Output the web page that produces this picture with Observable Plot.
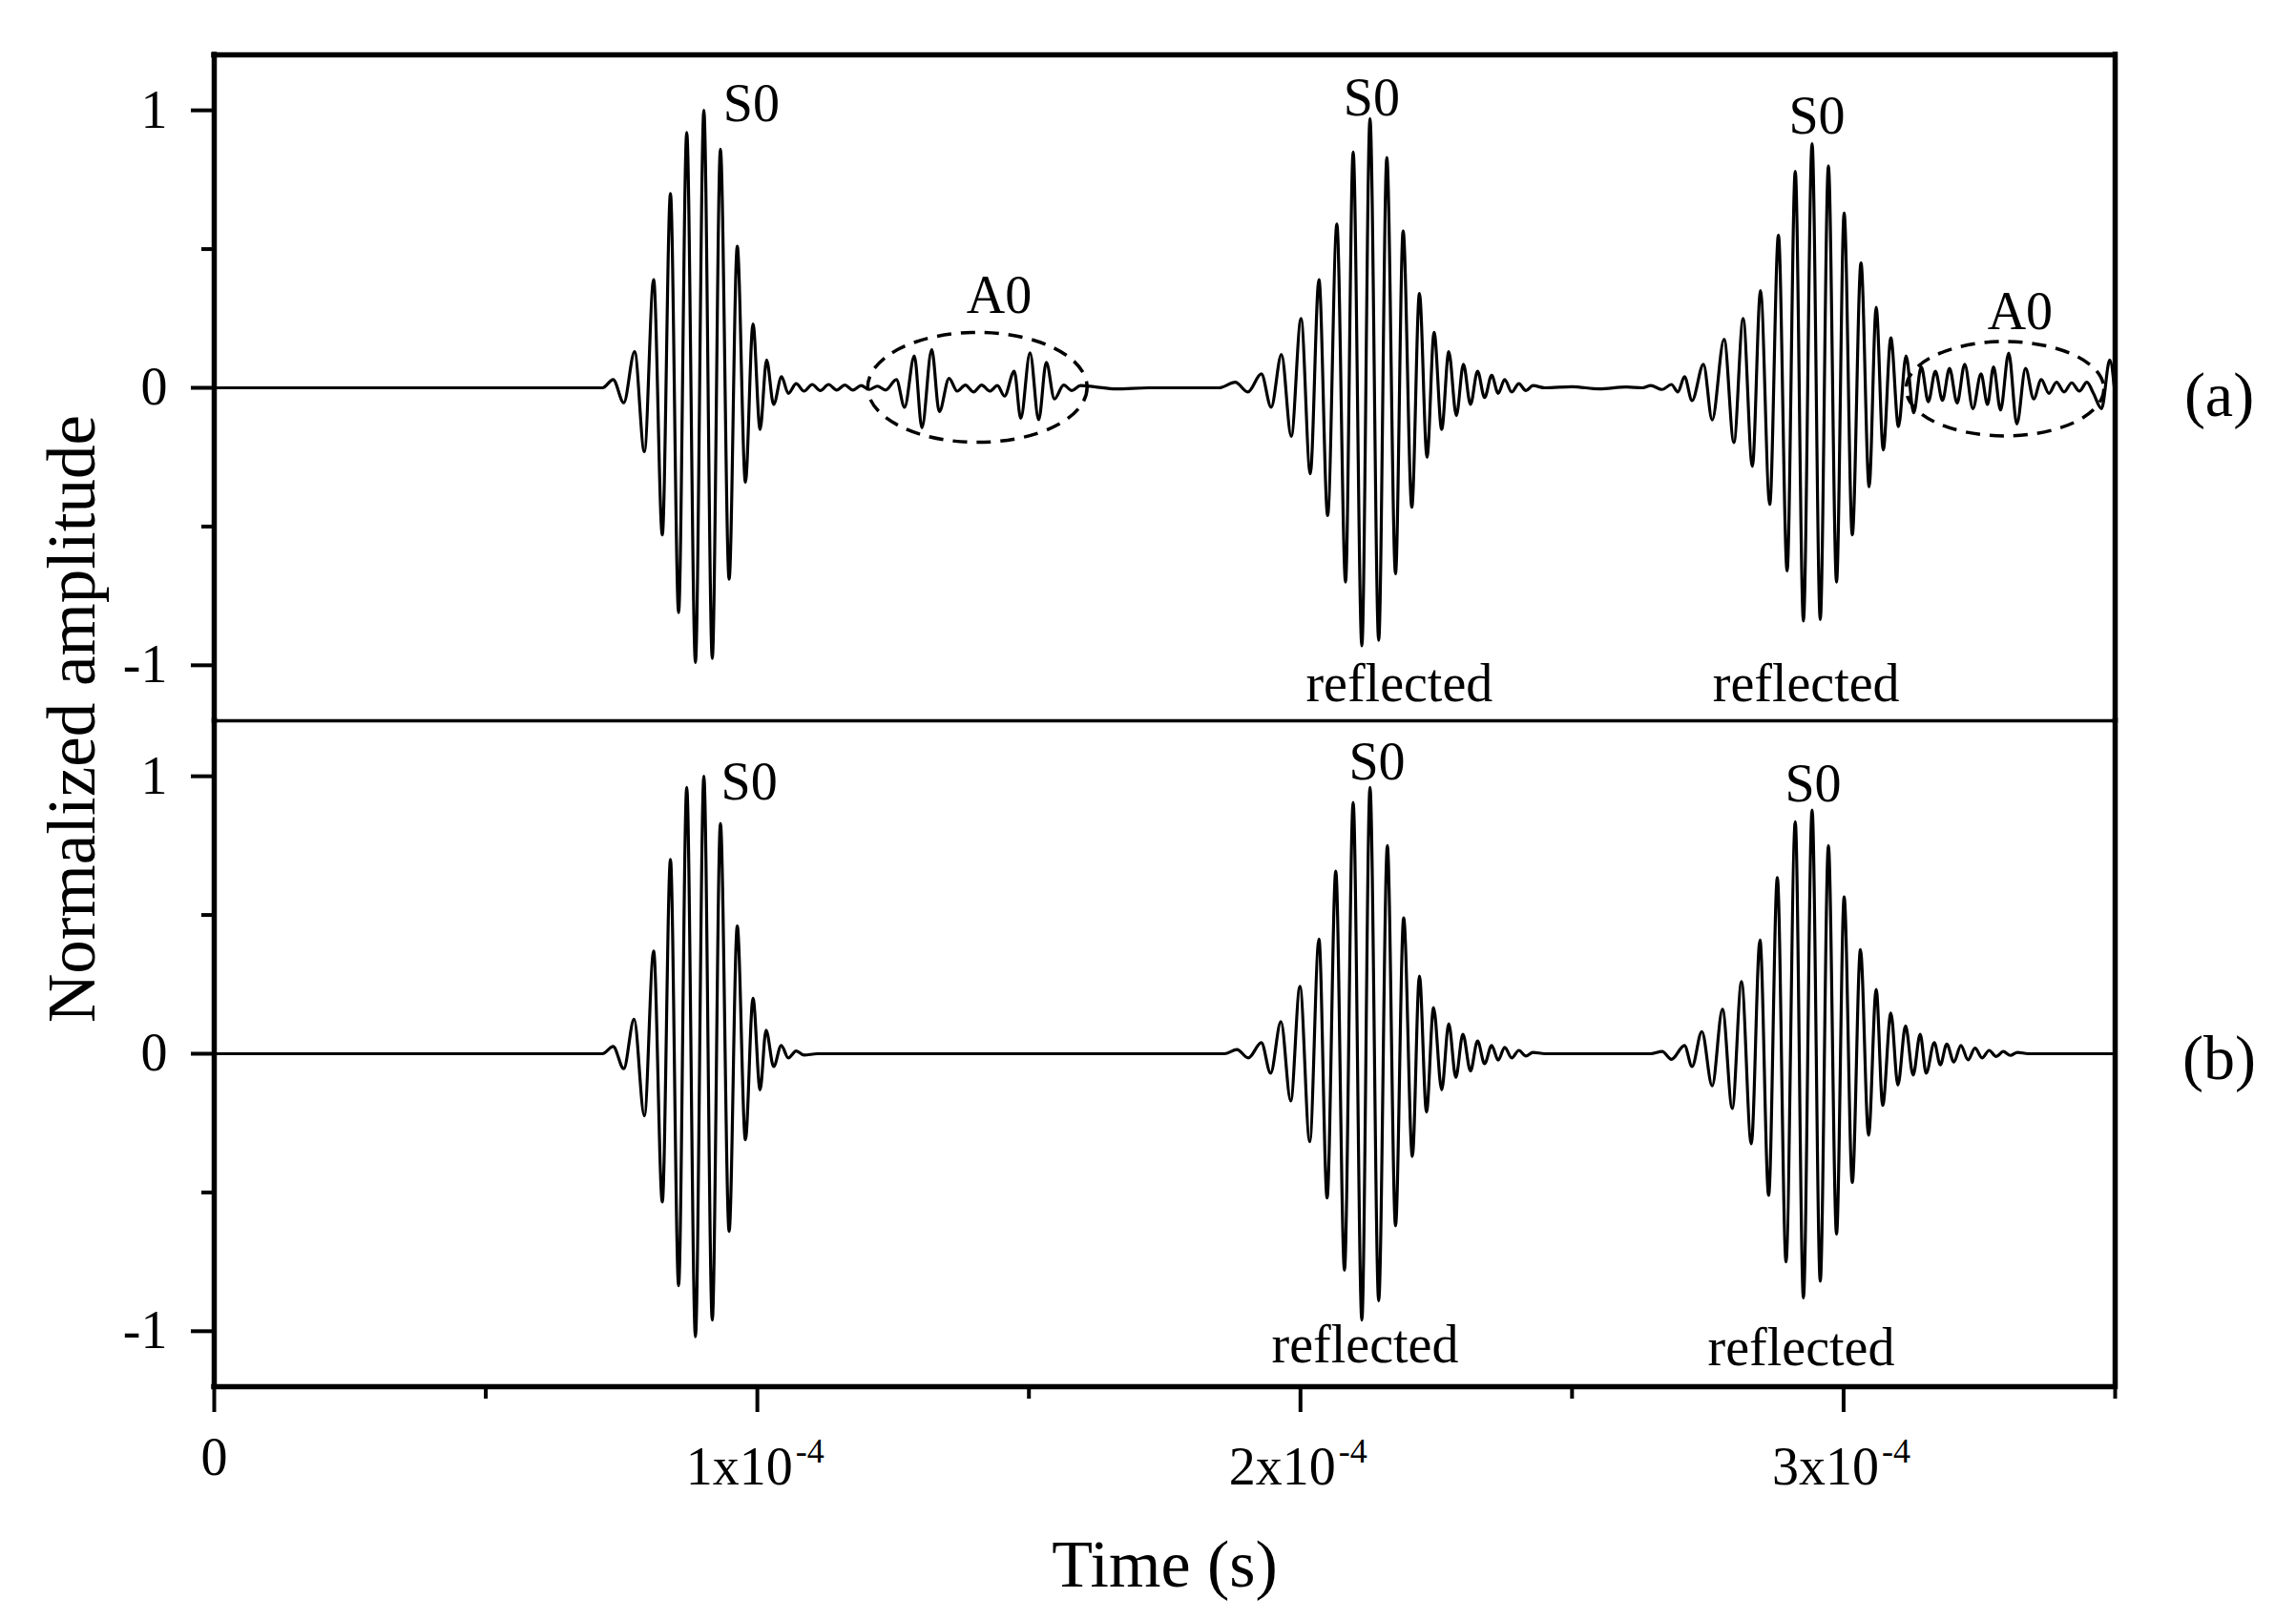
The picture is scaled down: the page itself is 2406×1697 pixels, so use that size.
<!DOCTYPE html>
<html><head><meta charset="utf-8">
<script src="https://cdn.jsdelivr.net/npm/d3@7"></script>
<script src="https://cdn.jsdelivr.net/npm/@observablehq/plot@0.6"></script>
<style>
html,body{margin:0;padding:0;background:#fff;}
#chart{position:relative;width:2406px;height:1697px;overflow:hidden;background:#fff;}
#chart svg{display:block;}
</style></head><body><div id="chart"></div>
<script>
// ---------- DATA (time in microseconds, normalized amplitude) ----------
// Panel (a): extrema
const leadA = [[0, 0], [71.5, 0]];
const burstA1 = [[73.45, 0.03], [75.4, -0.054], [77.4, 0.13], [79.2, -0.23], [80.9, 0.39], [82.5, -0.53], [84.0, 0.70], [85.5, -0.81], [87.0, 0.92], [88.6, -0.99], [90.15, 1.0], [91.7, -0.975], [93.2, 0.86], [94.8, -0.69], [96.3, 0.51], [97.8, -0.34], [99.2, 0.23], [100.5, -0.15], [101.7, 0.10], [103.0, -0.06], [104.45, 0.04], [105.7, -0.02], [107.15, 0.015], [108.6, -0.012]];
const rippleA1 = [[110.1, 0.012], [111.6, -0.01], [113.1, 0.012], [114.6, -0.008], [116.1, 0.01], [117.6, -0.008], [119.1, 0.008], [120.6, -0.006], [122.1, 0.006], [123.6, -0.008]];
const a0PacketA1 = [[125.6, 0.03], [127.1, -0.07], [128.9, 0.115], [130.3, -0.144], [132.1, 0.138], [133.5, -0.086], [135.3, 0.034], [136.8, -0.012], [138.3, 0.01], [139.8, -0.015], [141.3, 0.01], [142.8, -0.012], [144.2, 0.008], [145.5, -0.03], [147.3, 0.06], [148.5, -0.11], [150.2, 0.126], [151.8, -0.115], [153.2, 0.092], [154.7, -0.04], [156.4, 0.01], [157.9, -0.01], [159.5, 0.008]];
const gapA1 = [[162, 0.004], [166, -0.004], [172, 0], [185, 0]];
const burstA2 = [[188.0, 0.02], [190.3, -0.015], [192.8, 0.05], [194.6, -0.07], [196.5, 0.12], [198.3, -0.175], [200.1, 0.25], [201.8, -0.31], [203.4, 0.39], [205.0, -0.46], [206.7, 0.59], [208.3, -0.70], [209.7, 0.85], [211.3, -0.93], [212.8, 0.97], [214.4, -0.91], [215.9, 0.83], [217.5, -0.67], [218.9, 0.565], [220.5, -0.43], [221.9, 0.34], [223.3, -0.25], [224.6, 0.20], [226.0, -0.15], [227.3, 0.13], [228.7, -0.10], [230.0, 0.085], [231.3, -0.06], [232.6, 0.06], [233.9, -0.035], [235.2, 0.045], [236.4, -0.02], [237.6, 0.03], [238.9, -0.015], [240.2, 0.015], [241.5, -0.01], [242.8, 0.008]];
const gapA2 = [[245, 0], [250, 0.004], [255, -0.004], [260, 0.003], [263, 0]];
const burstA3 = [[264.5, 0.008], [266.6, -0.006], [268.3, 0.012], [269.5, -0.015], [270.7, 0.04], [272.1, -0.046], [274.2, 0.085], [275.8, -0.116], [278.0, 0.175], [279.8, -0.197], [281.5, 0.25], [283.2, -0.283], [284.7, 0.35], [286.4, -0.42], [288.0, 0.55], [289.6, -0.66], [291.1, 0.78], [292.6, -0.84], [294.2, 0.88], [295.7, -0.835], [297.2, 0.80], [298.7, -0.70], [300.1, 0.63], [301.6, -0.53], [303.2, 0.45], [304.7, -0.356], [306.0, 0.29], [307.3, -0.224], [308.7, 0.18], [310.1, -0.14], [311.5, 0.115]];
const a0TailA3 = [[312.9, -0.09], [314.3, 0.075], [315.6, -0.05], [316.9, 0.06], [318.2, -0.045], [319.5, 0.07], [320.9, -0.055], [322.3, 0.085], [323.8, -0.075], [325.3, 0.05], [326.5, -0.06], [327.6, 0.075], [328.9, -0.08], [330.4, 0.125], [331.9, -0.13], [333.5, 0.07], [335.0, -0.04], [336.4, 0.03], [337.8, -0.02], [339.2, 0.02], [340.6, -0.015], [342.0, 0.018], [343.4, -0.012], [344.8, 0.02], [346.0, -0.02], [347.5, -0.075], [349.0, 0.10], [350, -0.03]];

// Panel (b)
const leadB = [[0, 0], [71.5, 0]];
const burstB1 = [[73.45, 0.026], [75.4, -0.054], [77.3, 0.124], [79.2, -0.224], [80.9, 0.37], [82.5, -0.534], [84.0, 0.70], [85.5, -0.836], [87.0, 0.96], [88.6, -1.02], [90.15, 1.0], [91.7, -0.96], [93.2, 0.83], [94.8, -0.64], [96.3, 0.46], [97.8, -0.31], [99.2, 0.20], [100.5, -0.13], [101.6, 0.085], [103.0, -0.046], [104.4, 0.03], [105.7, -0.015], [107.15, 0.01], [108.6, -0.005]];
const gapB1 = [[111, 0], [186, 0]];
const burstB2 = [[188.3, 0.015], [190.4, -0.015], [192.8, 0.04], [194.5, -0.07], [196.4, 0.116], [198.2, -0.17], [199.9, 0.243], [201.7, -0.317], [203.4, 0.413], [204.9, -0.52], [206.5, 0.658], [208.1, -0.78], [209.7, 0.906], [211.3, -0.96], [212.8, 0.96], [214.4, -0.89], [216.0, 0.75], [217.5, -0.62], [219.0, 0.49], [220.6, -0.37], [221.9, 0.28], [223.2, -0.21], [224.5, 0.166], [226.0, -0.13], [227.3, 0.108], [228.6, -0.085], [229.9, 0.07], [231.3, -0.062], [232.6, 0.046], [233.9, -0.036], [235.2, 0.03], [236.4, -0.023], [237.6, 0.023], [238.9, -0.015], [240.2, 0.012], [241.5, -0.008], [242.8, 0.005]];
const gapB2 = [[245, 0], [264.5, 0]];
const burstB3 = [[266.6, 0.008], [268.3, -0.02], [270.7, 0.03], [272.1, -0.046], [273.9, 0.08], [275.8, -0.116], [277.7, 0.16], [279.5, -0.197], [281.2, 0.26], [283.0, -0.325], [284.6, 0.41], [286.2, -0.51], [287.8, 0.635], [289.4, -0.75], [291.1, 0.836], [292.6, -0.88], [294.2, 0.878], [295.7, -0.82], [297.2, 0.75], [298.7, -0.65], [300.1, 0.565], [301.6, -0.464], [303.1, 0.375], [304.6, -0.294], [306.0, 0.232], [307.2, -0.186], [308.7, 0.147], [310.0, -0.113], [311.4, 0.10], [312.8, -0.077], [314.1, 0.07], [315.2, -0.07], [316.7, 0.04], [317.8, -0.04], [319.0, 0.035], [320.3, -0.03], [321.6, 0.03], [322.9, -0.022], [324.2, 0.02], [325.5, -0.015], [326.8, 0.012], [328.1, -0.01], [329.4, 0.008], [330.7, -0.006], [332.0, 0.005]];
const tailB = [[334, 0], [350, 0]];

// Annotations (data coordinates: time µs, amplitude)
const annotTextA = ["S0", "S0", "S0", "A0", "A0", "reflected", "reflected"];
const annotTimeA = [98.9, 213.1, 295.1, 144.5, 332.5, 218.2, 293.1];
const annotAmpA = [0.96, 0.98, 0.915, 0.27, 0.21, -1.13, -1.13];
const annotTextB = ["S0", "S0", "S0", "reflected", "reflected"];
const annotTimeB = [98.5, 214.1, 294.4, 211.9, 292.2];
const annotAmpB = [0.915, 0.99, 0.908, -1.114, -1.123];

// Dashed ellipses around A0 packets: centre time, centre amp, half-width (µs), half-height
const ellipsesA = [{t: 140.6, a: 0, rt: 20.2, ra: 0.198}, {t: 329.8, a: -0.005, rt: 18.2, ra: 0.17}];

// Axis ticks
const yMajorTicks = [-1, 0, 1];
const yMinorTicks = [-0.5, 0.5];
const xMajorTicks = [0, 1e-4, 2e-4, 3e-4];
const xMinorTicks = [0.5e-4, 1.5e-4, 2.5e-4, 3.5e-4];
const xTickBase = ["1x10", "2x10", "3x10"];
const xTickBaseValues = [1e-4, 2e-4, 3e-4];
const xTickExp = ["-4", "-4", "-4"];
const panelLabels = ["(a)", "(b)"];

// ---------- BUILD ----------
const FONT = "'Liberation Serif','Times New Roman',Times,serif";
const X_DOMAIN = [0, 3.5e-4];
const Y_DOMAIN = [-1.2, 1.2];
const toRows = (...parts) => parts.flat().map(([t, a]) => ({t: t * 1e-6, a})).sort((p, q) => p.t - q.t);
const dataA = toRows(leadA, burstA1, rippleA1, a0PacketA1, gapA1, burstA2, gapA2, burstA3, a0TailA3);
const dataB = toRows(leadB, burstB1, gapB1, burstB2, gapB2, burstB3, tailB);
const annA = annotTextA.map((s, i) => ({s, t: annotTimeA[i] * 1e-6, a: annotAmpA[i]}));
const annB = annotTextB.map((s, i) => ({s, t: annotTimeB[i] * 1e-6, a: annotAmpB[i]}));

function ellipseMark(list) {
  return (index, scales) => {
    const g = d3.create("svg:g");
    for (const e of list) {
      const cx = scales.x(e.t * 1e-6), cy = scales.y(e.a);
      const rx = Math.abs(scales.x((e.t + e.rt) * 1e-6) - cx);
      const ry = Math.abs(scales.y(e.a + e.ra) - cy);
      g.append("ellipse").attr("cx", cx).attr("cy", cy).attr("rx", rx).attr("ry", ry)
        .attr("fill", "none").attr("stroke", "black").attr("stroke-width", 3.5)
        .attr("stroke-dasharray", "15,10");
    }
    return g.node();
  };
}

function yAxes() {
  return [
    Plot.axisY({ticks: yMajorTicks, tickSize: 24, tickPadding: 25, tickFormat: d => String(d), label: null, strokeWidth: 4, fontSize: 56}),
    Plot.axisY({ticks: yMinorTicks, tickSize: 13, tickFormat: () => "", label: null, strokeWidth: 4})
  ];
}

const waveOpts = {x: "t", y: "a", curve: "monotone-x", stroke: "black", strokeWidth: 3.2};
const annOpts = {x: "t", y: "a", text: "s", fontSize: 56, lineAnchor: "bottom", fill: "black"};

const plotTop = Plot.plot({
  width: 2406, height: 755,
  marginLeft: 224, marginRight: 190, marginTop: 57, marginBottom: 0,
  x: {domain: X_DOMAIN, axis: null},
  y: {domain: Y_DOMAIN},
  style: {fontFamily: FONT, fontSize: "56px", background: "transparent", overflow: "visible", color: "black"},
  marks: [
    Plot.line(dataA, waveOpts),
    ellipseMark(ellipsesA),
    Plot.text(annA, annOpts),
    Plot.ruleY([1.2], {strokeWidth: 5.5, strokeLinecap: "square"}),
    Plot.ruleY([-1.2], {strokeWidth: 3.5}),
    Plot.ruleX([0, 3.5e-4], {strokeWidth: 5.5, strokeLinecap: "square"}),
    ...yAxes(),
    Plot.text([panelLabels[0]], {text: d => d, frameAnchor: "right", dx: 109, dy: 8, fontSize: 66, textAnchor: "middle"})
  ]
});

const plotBottom = Plot.plot({
  width: 2406, height: 942,
  marginLeft: 224, marginRight: 190, marginTop: 0, marginBottom: 244,
  x: {domain: X_DOMAIN},
  y: {domain: Y_DOMAIN},
  style: {fontFamily: FONT, fontSize: "56px", background: "transparent", overflow: "visible", color: "black"},
  marks: [
    Plot.line(dataB, waveOpts),
    Plot.text(annB, annOpts),
    Plot.ruleY([-1.2], {strokeWidth: 5.5, strokeLinecap: "square"}),
    Plot.ruleX([0, 3.5e-4], {strokeWidth: 5.5, strokeLinecap: "square"}),
    ...yAxes(),
    Plot.axisX({ticks: xMajorTicks, tickSize: 27, tickFormat: () => "", label: null, strokeWidth: 4}),
    Plot.axisX({ticks: xMinorTicks, tickSize: 13, tickFormat: () => "", label: null, strokeWidth: 4}),
    Plot.text([0], {x: d => d, text: () => "0", frameAnchor: "bottom", dy: 92, lineAnchor: "bottom", fontSize: 56}),
    Plot.text(xTickBaseValues, {x: d => d, text: (d, i) => xTickBase[i], frameAnchor: "bottom", dy: 102, dx: 37, lineAnchor: "bottom", textAnchor: "end", fontSize: 56}),
    Plot.text(xTickBaseValues, {x: d => d, text: (d, i) => xTickExp[i], frameAnchor: "bottom", dy: 79, dx: 40, lineAnchor: "bottom", textAnchor: "start", fontSize: 36}),
    Plot.text(["Time (s)"], {text: d => d, frameAnchor: "bottom", dy: 209, lineAnchor: "bottom", fontSize: 70}),
    Plot.text(["Normalized amplitude"], {text: d => d, frameAnchor: "top-left", dx: -126, dy: -2, rotate: -90, lineAnchor: "bottom", textAnchor: "middle", fontSize: 71}),
    Plot.text([panelLabels[1]], {text: d => d, frameAnchor: "right", dx: 109, dy: 5, fontSize: 66, textAnchor: "middle"})
  ]
});

const chart = document.getElementById("chart");
chart.appendChild(plotTop);
chart.appendChild(plotBottom);
</script>
</body></html>
